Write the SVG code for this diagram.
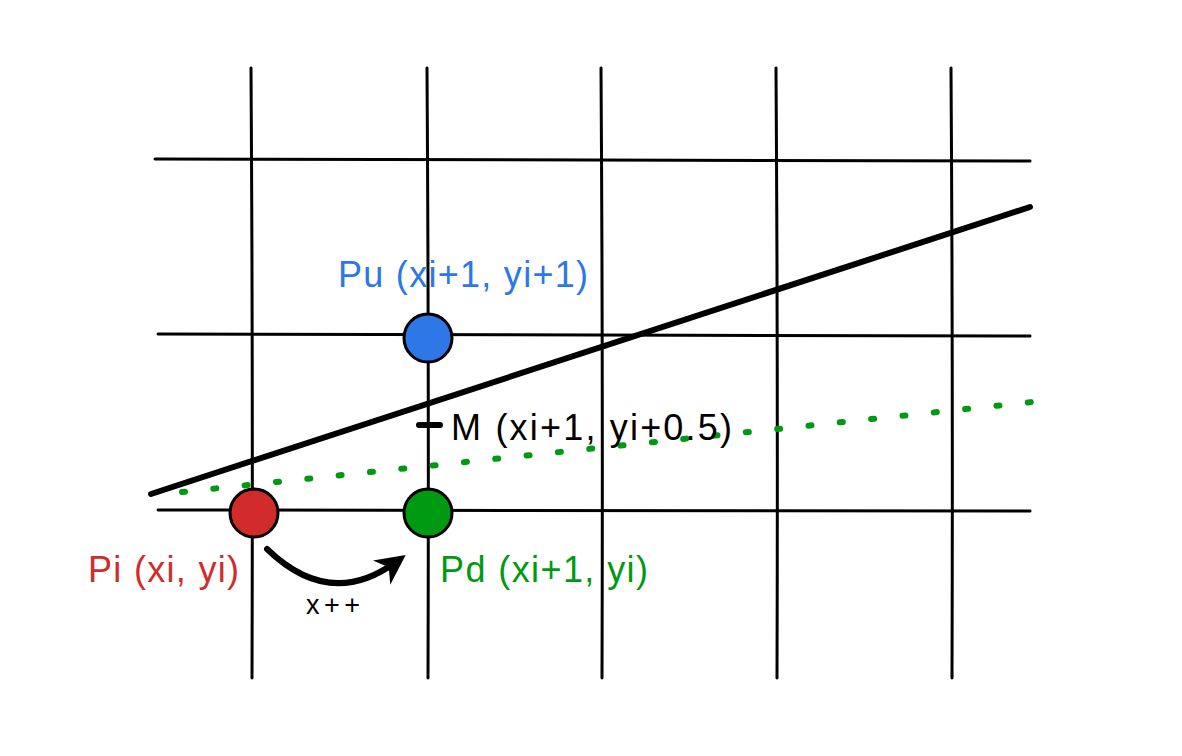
<svg xmlns="http://www.w3.org/2000/svg" width="1182" height="756" viewBox="0 0 1182 756">
<style>
.grid{stroke:#000;stroke-width:3;fill:none;stroke-linecap:round}
.lbl{font-family:"Liberation Sans",Arial,sans-serif;font-size:36px}
.dot{stroke:#000;stroke-width:3}
</style>
<defs>
<marker id="ah" viewBox="0 0 10 10" refX="6" refY="5" markerWidth="5" markerHeight="5" orient="auto">
<path d="M0,0 L10,5 L0,10 L3,5 Z" fill="#000"/>
</marker>
</defs>
<rect width="1182" height="756" fill="#fff"/>
<g id="grid">
<path class="grid" d="M251,68 Q253,370 252,678"/>
<path class="grid" d="M427,68 Q429,370 428,678"/>
<path class="grid" d="M601,68 Q603,370 602,678"/>
<path class="grid" d="M776,68 Q778,370 777,678"/>
<path class="grid" d="M951,68 Q953,370 952,678"/>
<path class="grid" d="M155,159 L1030,161"/>
<path class="grid" d="M158,334 L1030,336"/>
<path class="grid" d="M158,510 L1030,511"/>
</g>
<g id="connectors">
<line x1="151" y1="494" x2="1030" y2="207" stroke="#000" stroke-width="6" stroke-linecap="round"/>
<line x1="182" y1="492" x2="1032" y2="402" stroke="#009a12" stroke-width="6" stroke-linecap="round" stroke-dasharray="3 28.5"/>
<line x1="419" y1="425" x2="440" y2="425" stroke="#000" stroke-width="6" stroke-linecap="round"/>
<path d="M267,549 Q330,610 396,562" fill="none" stroke="#000" stroke-width="6" stroke-linecap="round" marker-end="url(#ah)"/>
</g>
<g id="pu">
<circle class="dot" cx="428" cy="338" r="24" fill="#2d77e6"/>
<text class="lbl" x="338" y="287" fill="#2d77e6" textLength="250">Pu (xi+1, yi+1)</text>
</g>
<g id="m">
<text class="lbl" x="451" y="440" fill="#000" textLength="281">M (xi+1, yi+0.5)</text>
</g>
<g id="pi">
<circle class="dot" cx="254" cy="513" r="24" fill="#d22b2b"/>
<text class="lbl" x="88" y="582" fill="#d22b2b" textLength="151">Pi (xi, yi)</text>
</g>
<g id="pd">
<circle class="dot" cx="428" cy="513" r="24" fill="#009a12"/>
<text class="lbl" x="440" y="582" fill="#009a12" textLength="208">Pd (xi+1, yi)</text>
</g>
<g id="xpp">
<text class="lbl" x="306" y="614" fill="#000" style="font-size:27px" textLength="54">x++</text>
</g>
</svg>
